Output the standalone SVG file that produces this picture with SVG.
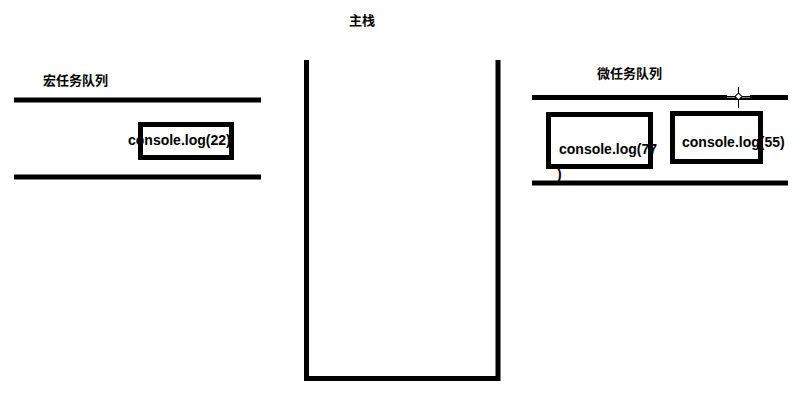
<svg xmlns="http://www.w3.org/2000/svg" width="811" height="406" viewBox="0 0 811 406">
<style>
.bar{stroke:#000;stroke-width:5;fill:none}
.box{stroke:#000;stroke-width:5;fill:#fff}
.code{font-family:"Liberation Sans",Arial,sans-serif;font-weight:bold;font-size:14px;fill:#000}
.cn{font-family:"Noto Sans CJK SC",sans-serif;font-size:13px;font-weight:bold;fill:#000}
</style>
<rect width="811" height="406" fill="#fff"/>
<g id="main-stack">
<path class="bar" d="M306.5,60 V378.5 H498 V60"/>
<text class="cn" x="349" y="25">主栈</text>
</g>
<g id="macro-queue">
<text class="cn" x="43" y="85">宏任务队列</text>
<line class="bar" x1="14" y1="100" x2="261" y2="100"/>
<line class="bar" x1="14" y1="177" x2="261" y2="177"/>
</g>
<g id="macro-task-22">
<rect class="box" x="140.5" y="124.5" width="91" height="33"/>
<text class="code" x="128" y="145">console.log(22)</text>
</g>
<g id="micro-queue">
<text class="cn" x="597" y="78">微任务队列</text>
<line class="bar" x1="532" y1="97.5" x2="788" y2="97.5"/>
<line class="bar" x1="532" y1="183" x2="788" y2="183"/>
</g>
<g id="micro-task-77">
<rect class="box" x="548.5" y="114.5" width="102" height="52"/>
<text class="code" x="559" y="154">console.log(77</text>
<text class="code" x="557" y="179">)</text>
</g>
<g id="micro-task-55">
<rect class="box" x="672.5" y="113.5" width="88" height="48"/>
<text class="code" x="682" y="147">console.log(55)</text>
</g>
<g id="cursor" stroke="#000" stroke-width="1" fill="none">
<line x1="738.5" y1="87" x2="738.5" y2="108"/>
<line x1="727" y1="96" x2="750" y2="96" stroke="#fff" stroke-width="3"/>
<line x1="727" y1="96.5" x2="750" y2="96.5"/>
<rect x="736" y="94" width="5" height="5" fill="#fff" transform="rotate(45 738.5 96.5)"/>
</g>
<g id="connectors"></g>
</svg>
